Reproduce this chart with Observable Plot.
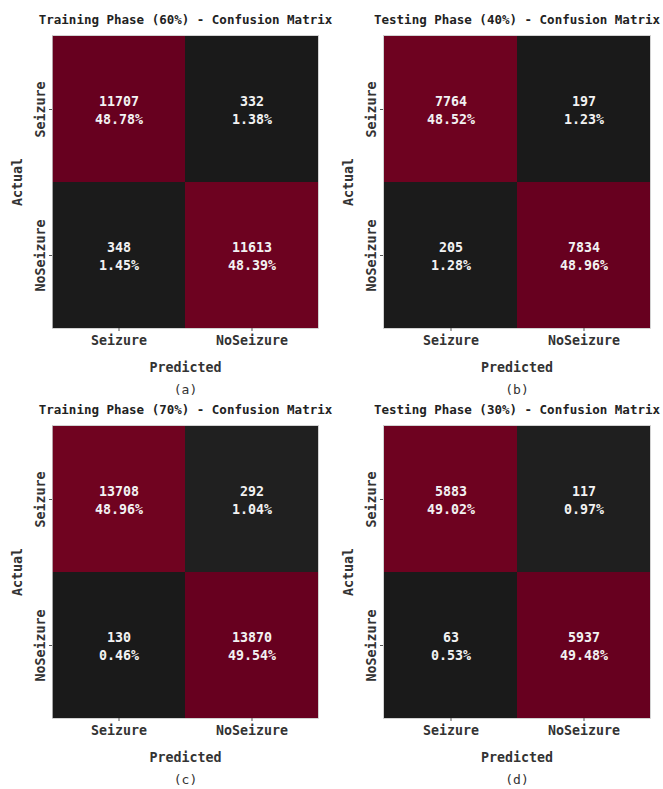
<!DOCTYPE html>
<html>
<head>
<meta charset="utf-8">
<script src="https://cdn.jsdelivr.net/npm/d3@7"></script>
<script src="https://cdn.jsdelivr.net/npm/@observablehq/plot@0.6"></script>
<style>
  html, body { margin: 0; padding: 0; background: #fff; }
  #grid { display: grid; grid-template-columns: 331px 332px; grid-template-rows: 390px 399px; width: 663px; height: 789px; }
  #grid svg { overflow: visible; }
</style>
</head>
<body>
<div id="grid"></div>
<script>
const titles = [
  "Training Phase (60%) - Confusion Matrix",
  "Testing Phase (40%) - Confusion Matrix",
  "Training Phase (70%) - Confusion Matrix",
  "Testing Phase (30%) - Confusion Matrix"
];
const captions = ["(a)", "(b)", "(c)", "(d)"];
const classLabels = ["Seizure", "NoSeizure"];
// cells in order: [Actual Seizure/Pred Seizure, Actual Seizure/Pred NoSeizure, Actual NoSeizure/Pred Seizure, Actual NoSeizure/Pred NoSeizure]
const counts = [
  [11707, 332, 348, 11613],
  [7764, 197, 205, 7834],
  [13708, 292, 130, 13870],
  [5883, 117, 63, 5937]
];
const percents = [
  ["48.78%", "1.38%", "1.45%", "48.39%"],
  ["48.52%", "1.23%", "1.28%", "48.96%"],
  ["48.96%", "1.04%", "0.46%", "49.54%"],
  ["49.02%", "0.97%", "0.53%", "49.48%"]
];
const xLabel = "Predicted";
const yLabel = "Actual";

const grid = document.getElementById("grid");
const font = "'DejaVu Sans Mono', monospace";

titles.forEach((title, p) => {
  const data = [];
  classLabels.forEach((act, i) => classLabels.forEach((pred, j) => {
    const k = i * 2 + j;
    data.push({act, pred, value: counts[p][k], pct: percents[p][k]});
  }));
  const w = p % 2 === 0 ? 331 : 332;
  const chart = Plot.plot({
    width: w,
    height: 390,
    marginTop: 35,
    marginBottom: 62,
    marginLeft: 52,
    marginRight: 13,
    style: {fontFamily: font, fontWeight: "bold", fontSize: "13px", color: "#333", background: "transparent"},
    x: {domain: classLabels, padding: 0, label: null},
    y: {domain: classLabels, padding: 0, label: null},
    color: {type: "linear", scheme: "RdGy", reverse: true},
    marks: [
      Plot.cell(data, {x: "pred", y: "act", fill: "value", inset: 0}),
      Plot.frame({stroke: "#c8c8c8", strokeWidth: 0.8}),
      Plot.text(data, {x: "pred", y: "act", text: d => `${d.value}\n${d.pct}`, fill: "#f2f2f2", fontSize: 13.3, lineHeight: 1.35, fontWeight: "bold"}),
      Plot.axisX({anchor: "bottom", tickSize: 3, tickPadding: 4, fontSize: 13.3, stroke: "#555", label: null}),
      Plot.axisY({anchor: "left", tickSize: 3, tickPadding: 5, tickRotate: -90, fontSize: 13.3, stroke: "#555", label: null}),
      Plot.text([title], {frameAnchor: "top", dy: -16, lineAnchor: "middle", fontSize: 12.5, fill: "#222", fontWeight: "bold"}),
      Plot.text([xLabel], {frameAnchor: "bottom", dy: 39, lineAnchor: "middle", fontSize: 13.3, fill: "#333", fontWeight: "bold"}),
      Plot.text([captions[p]], {frameAnchor: "bottom", dy: 61, lineAnchor: "middle", fontSize: 13, fill: "#333", fontWeight: "normal"}),
      Plot.text([yLabel], {frameAnchor: "left", dx: -35, rotate: -90, textAnchor: "middle", lineAnchor: "middle", fontSize: 13.3, fill: "#333", fontWeight: "bold"})
    ]
  });
  grid.appendChild(chart);
});
</script>
</body>
</html>
